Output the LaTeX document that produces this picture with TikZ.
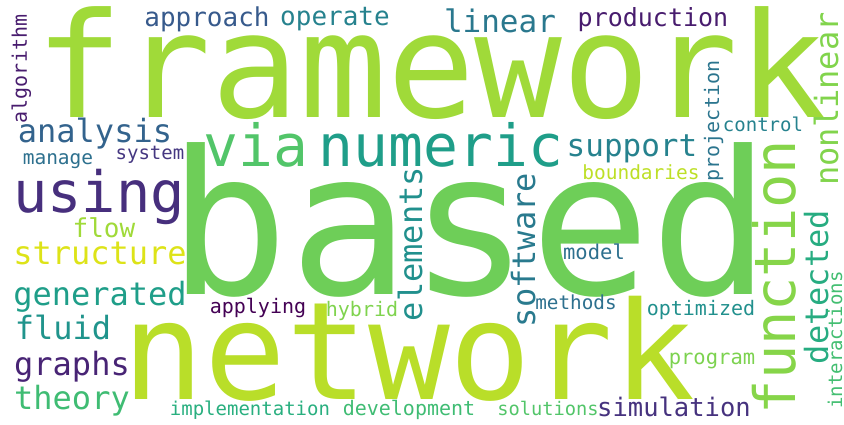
\documentclass[tikz,border=0pt]{standalone}
\usepackage{fontspec}
\newfontfamily\cloudfont{DejaVu Sans Mono}

% viridis shades
\definecolor{vPurple}{HTML}{440154}
\definecolor{vPlum}{HTML}{481C6E}
\definecolor{vIndigo}{HTML}{472F7D}
\definecolor{vViolet}{HTML}{46327E}
\definecolor{vGrape}{HTML}{482475}
\definecolor{vDeep}{HTML}{453781}
\definecolor{vBlue}{HTML}{375A8C}
\definecolor{vSlate}{HTML}{33638D}
\definecolor{vSteel}{HTML}{2D708E}
\definecolor{vPetrol}{HTML}{2A788E}
\definecolor{vTeal}{HTML}{26828E}
\definecolor{vCyan}{HTML}{21908D}
\definecolor{vJade}{HTML}{1F9E89}
\definecolor{vMint}{HTML}{29AF7F}
\definecolor{vSea}{HTML}{3FBC73}
\definecolor{vLeaf}{HTML}{52C569}
\definecolor{vGrass}{HTML}{6ECE58}
\definecolor{vLime}{HTML}{86D549}
\definecolor{vApple}{HTML}{A0DA39}
\definecolor{vChart}{HTML}{BDDF26}
\definecolor{vLemon}{HTML}{DDE318}

\begin{document}
\begin{tikzpicture}[
    x=1pt, y=-1pt,
    word/.style={inner sep=0pt, anchor=base, font=\cloudfont\fontsize{#1}{#1}\selectfont},
    up/.style={word=#1, rotate=90}
]
\useasboundingbox (0,0) rectangle (844,425);

% large words
\node[word=146, text=vApple] (framework) at (431,118) {framework};
\node[word=200, text=vGrass] (based) at (470,294) {based};
\node[word=136, text=vChart!85!vApple] (network) at (409,399) {network};
\node[word=57, text=vIndigo] (using) at (99,213) {using};
\node[word=58, text=vLeaf] (via) at (256,167) {via};
\node[word=58, text=vJade] (numeric) at (441,167) {numeric};

% top row
\node[word=26, text=vBlue] (approach) at (207,27) {approach};
\node[word=26, text=vTeal] (operate) at (335,26) {operate};
\node[word=31, text=vPetrol] (linear) at (500,33) {linear};
\node[word=25, text=vPlum] (production) at (653,27) {production};

% left column
\node[word=32, text=vSlate] (analysis) at (95,143) {analysis};
\node[word=19.5, text=vSteel] (manage) at (58,165) {manage};
\node[word=19, text=vDeep] (system) at (150,160) {system};
\node[word=26, text=vApple] (flow) at (104,237) {flow};
\node[word=32, text=vLemon] (structure) at (100,264) {structure};
\node[word=32, text=vJade] (generated) at (100,305) {generated};
\node[word=32, text=vCyan!70!vJade] (fluid) at (63,339) {fluid};
\node[word=32, text=vGrape] (graphs) at (72,375) {graphs};
\node[word=32, text=vSea] (theory) at (72,409) {theory};

% middle and right
\node[word=31, text=vTeal] (support) at (632,157) {support};
\node[word=19, text=vTeal] (control) at (763,132) {control};
\node[word=19.5, text=vChart] (boundaries) at (641,180) {boundaries};
\node[word=20, text=vPurple] (applying) at (258,313) {applying};
\node[word=20, text=vLime!70!vGrass] (hybrid) at (362,316) {hybrid};
\node[word=20.5, text=vSteel] (model) at (594,259) {model};
\node[word=19.3, text=vSteel] (methods) at (576,309) {methods};
\node[word=20, text=vCyan] (optimized) at (701,315) {optimized};
\node[word=20.5, text=vLime!60!vGrass] (program) at (712,364) {program};

% bottom row
\node[word=19, text=vMint] (implementation) at (250,415) {implementation};
\node[word=20, text=vSea] (development) at (409,415) {development};
\node[word=18.7, text=vLeaf] (solutions) at (548,415) {solutions};
\node[word=25.5, text=vViolet] (simulation) at (674,416) {simulation};

% upright words
\node[up=20, text=vPlum] (algorithm) at (27,69) {algorithm};
\node[up=32, text=vCyan] (elements) at (422,244) {elements};
\node[up=32, text=vPetrol!80!vTeal] (software) at (535,250) {software};
\node[up=57, text=vLime] (function) at (795,277) {function};
\node[up=32, text=vLime!80!vGrass] (nonlinear) at (838,99) {nonlinear};
\node[up=20, text=vSteel!70!vTeal] (projection) at (719,121) {projection};
\node[up=32, text=vMint!80!vJade] (detected) at (828,287) {detected};
\node[up=19, text=vSea!80!vLeaf] (interactions) at (842,340) {interactions};
\end{tikzpicture}
\end{document}
